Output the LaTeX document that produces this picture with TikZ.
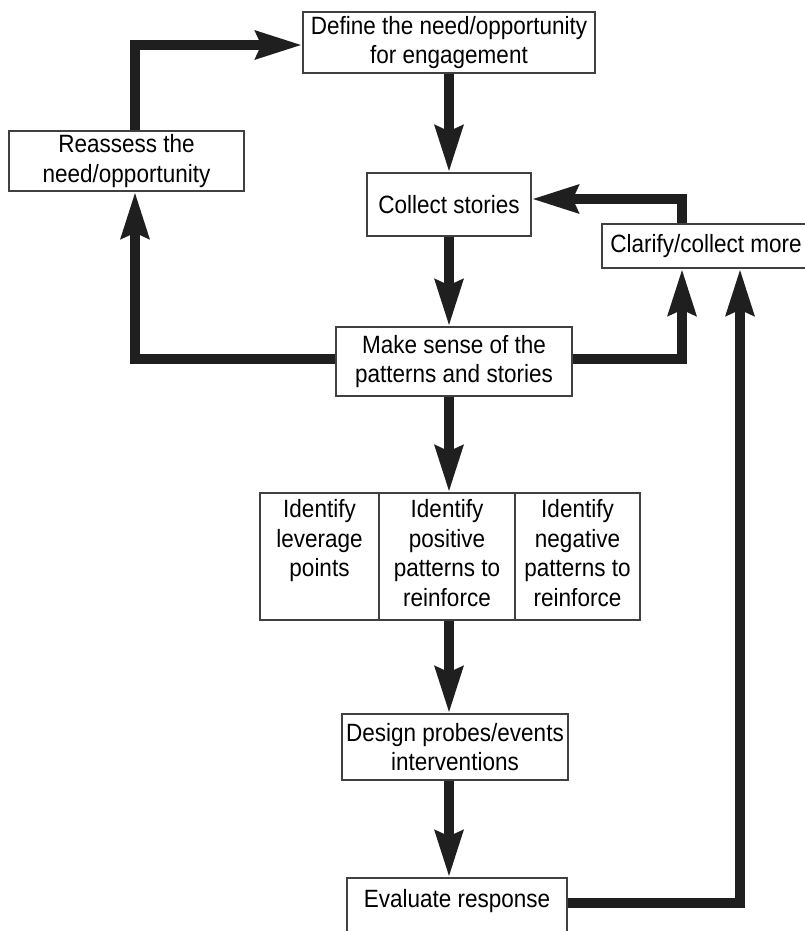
\documentclass[tikz,border=0pt]{standalone}
\usepackage{fontspec}
\setmainfont{Liberation Sans}[FakeStretch=0.9]
\usetikzlibrary{arrows.meta, positioning}

\begin{document}
\begin{tikzpicture}[
  x=1pt, y=-1pt,
  every node/.style={font=\fontsize{25}{29.5}\selectfont, inner sep=0pt, align=center},
  box/.style={draw=black!75, line width=1.3pt},
  flow/.style={draw=black!88, line width=10.5pt, line join=miter,
    -{Stealth[length=46pt, width=27pt, inset=5pt]}}
]
\useasboundingbox (0,0) rectangle (804,931);

\node[box, minimum width=292pt, minimum height=61pt] (define) at (449,42.5) {Define the need/opportunity\\for engagement};
\node[box, minimum width=235pt, minimum height=60pt] (reassess) at (126.5,161) {Reassess the\\need/opportunity};
\node[box, minimum width=164pt, minimum height=63pt] (collect) at (449,204.5) {Collect stories};
\node[box, minimum width=208pt, minimum height=44pt] (clarify) at (706,246) {Clarify/collect more};
\node[box, minimum width=236pt, minimum height=69pt] (sense) at (454,361.5) {Make sense of the\\patterns and stories};

\node[box, minimum width=119pt, minimum height=127pt] (lever) at (319.5,556.5) {};
\node[box, minimum width=136pt, minimum height=127pt] (positive) at (447,556.5) {};
\node[box, minimum width=125pt, minimum height=127pt] (negative) at (577.5,556.5) {};
\node[below=7pt of lever.north] {Identify\\leverage\\points};
\node[below=7pt of positive.north] {Identify\\positive\\patterns to\\reinforce};
\node[below=7pt of negative.north] {Identify\\negative\\patterns to\\reinforce};

\node[box, minimum width=226pt, minimum height=66pt] (design) at (455,747) {Design probes/events\\interventions};
\node[box, minimum width=220pt, text height=29pt, text depth=38pt] (evaluate) at (457,911.5) {Evaluate response};

\coordinate (spine) at (449,0);
\coordinate (topleft) at (135,45);
\coordinate (topright) at (682,199);
\coordinate (midleft) at (135,359);
\coordinate (midright) at (682,359);
\coordinate (back) at (740,903);

\draw[flow] (define) -- (collect);
\draw[flow] (reassess.north -| topleft) -- (topleft) -- (define.west |- topleft);
\draw[flow] (spine |- collect.south) -- (spine |- sense.north);
\draw[flow] (clarify.north -| topright) -- (topright) -- (collect.east |- topright);
\draw[flow] (sense.west |- midleft) -- (midleft) -- (midleft |- reassess.south);
\draw[flow] (sense.east |- midright) -- (midright) -- (midright |- clarify.south);
\draw[flow] (spine |- sense.south) -- (spine |- positive.north);
\draw[flow] (spine |- positive.south) -- (spine |- design.north);
\draw[flow] (spine |- design.south) -- (spine |- evaluate.north);
\draw[flow] (evaluate.east |- back) -- (back) -- (back |- clarify.south);
\end{tikzpicture}
\end{document}
